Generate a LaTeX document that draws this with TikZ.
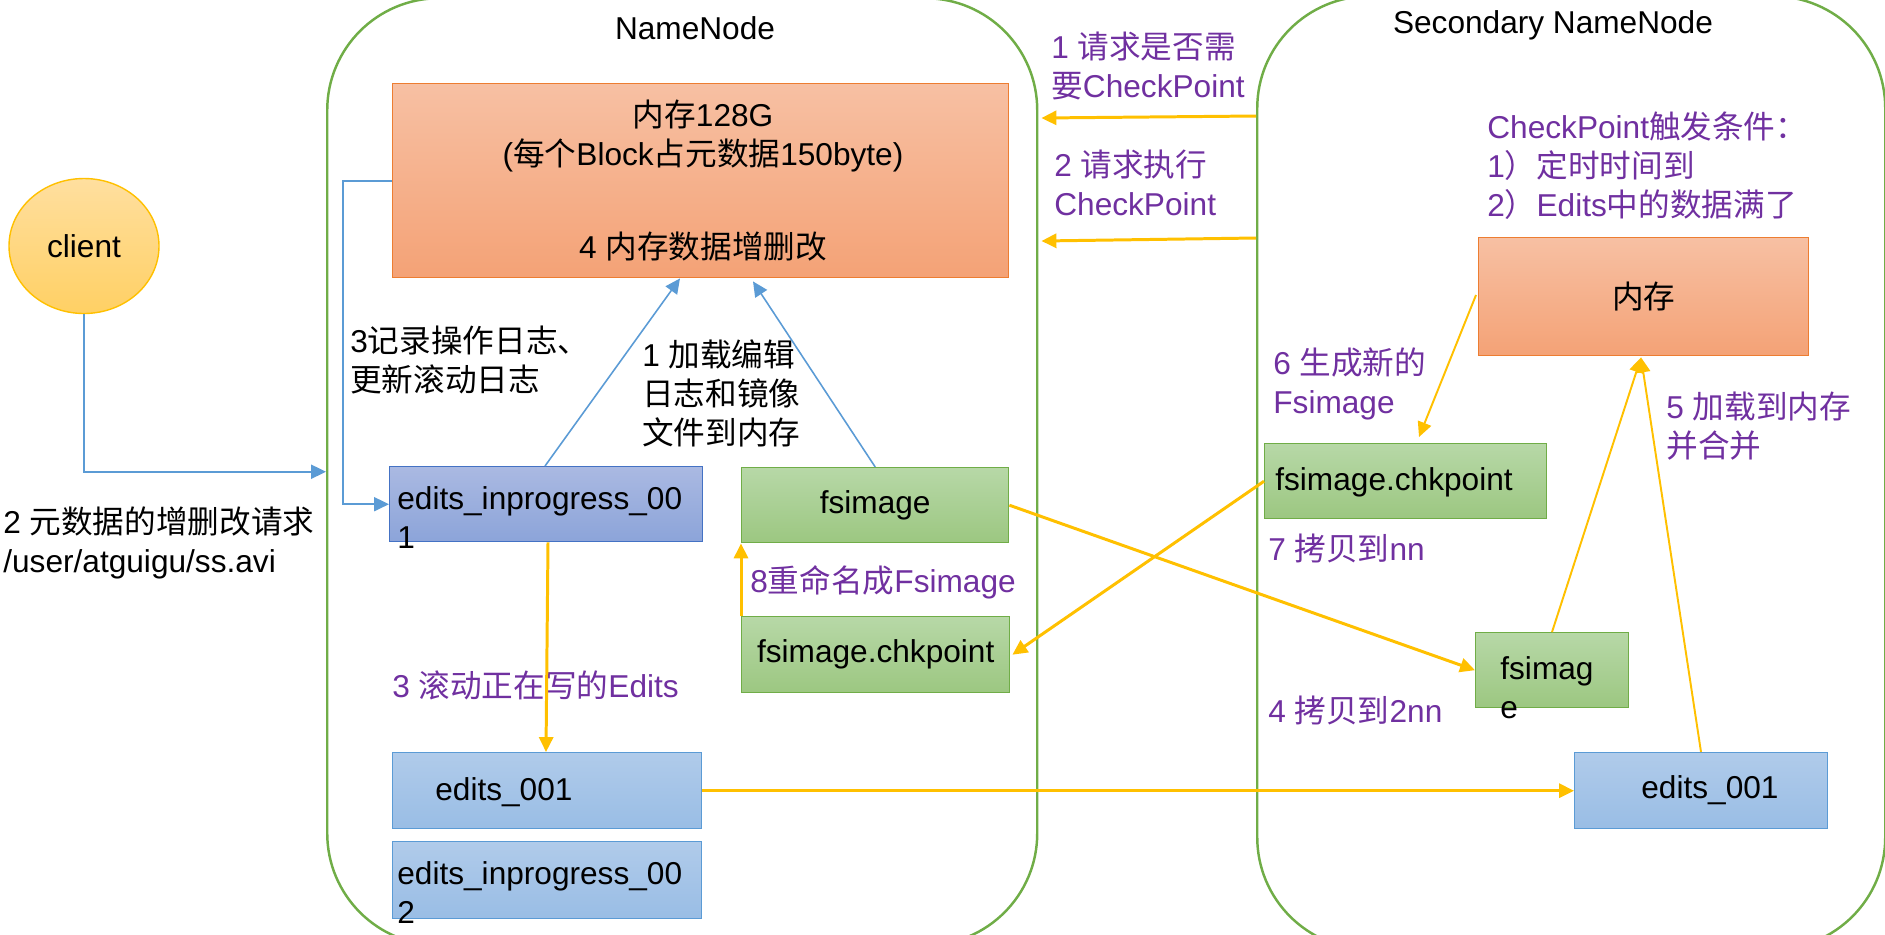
\documentclass[tikz,border=0pt]{standalone}
\usepackage{fontspec}
\setmainfont{Liberation Sans}
\newfontfamily\cjk{Noto Sans CJK SC}
\usetikzlibrary{arrows.meta,calc,shapes.geometric}
\definecolor{grn}{HTML}{70AD47}
\definecolor{grnt}{HTML}{B7D8A7}
\definecolor{grnb}{HTML}{9CC781}
\definecolor{ylw}{HTML}{FFC000}
\definecolor{pur}{HTML}{7030A0}
\definecolor{blu}{HTML}{5B9BD5}
\definecolor{blut}{HTML}{B0CBEA}
\definecolor{blub}{HTML}{99BDE5}
\definecolor{ind}{HTML}{4472C4}
\definecolor{indt}{HTML}{AAB9E2}
\definecolor{indb}{HTML}{8CA4D9}
\definecolor{orgd}{HTML}{ED7D31}
\definecolor{orgt}{HTML}{F7C0A3}
\definecolor{orgb}{HTML}{F4A276}
\definecolor{clit}{HTML}{FFDF9F}
\definecolor{clib}{HTML}{FFD064}

\def\u{0.02cm}
\def\fs{\fontsize{18}{22.2}\selectfont}
\def\zh#1{{\cjk #1}}
\tikzstyle{ctr}=[draw=grn,line width=1.4pt,rounded corners=2.24cm,anchor=north west,inner sep=0pt]
\tikzstyle{bx}=[anchor=north west,inner sep=0pt,line width=0.8pt]
\tikzstyle{mbox}=[bx,draw=orgd,top color=orgt,bottom color=orgb]
\tikzstyle{gbox}=[bx,draw=grn,top color=grnt,bottom color=grnb]
\tikzstyle{ebox}=[bx,draw=blu,top color=blut,bottom color=blub]
\tikzstyle{ibox}=[bx,draw=ind,top color=indt,bottom color=indb]
\tikzstyle{cli}=[ellipse,draw=ylw,line width=0.8pt,top color=clit,bottom color=clib]
\tikzstyle{lbl}=[inner sep=0pt,anchor=west,align=left]
\tikzstyle{plbl}=[lbl,text=pur]
\tikzstyle{arr}=[-{Triangle[length=8.5pt,width=8pt]}]
\tikzstyle{ya}=[arr,draw=ylw,line width=1.7pt]
\tikzstyle{yt}=[arr,draw=ylw,line width=1.1pt]
\tikzstyle{ba}=[arr,draw=blu,line width=0.9pt]

\begin{document}
\begin{tikzpicture}[x=\u,y=-\u,font=\fs]
	\useasboundingbox (0,0) rectangle (1885,934);
	\clip (0,0) rectangle (1885,934);
	\node[ctr,minimum width=710*\u,minimum height=947*\u](nn) at (326,-3){};
	\node[ctr,minimum width=628*\u,minimum height=953*\u](snn) at (1256,-5){};
	\node(nnt) at (695,28){NameNode};
	\node(snnt) at (1553,25){Secondary NameNode};
	\node[cli,minimum width=150*\u,minimum height=135*\u](cl) at (84,246){client};

	\node[mbox,minimum width=616*\u,minimum height=194*\u](mem) at (392,83){};
	\node[align=center](memt) at (703,181){\zh{内存}128G\\(\zh{每个}Block\zh{占元数据}150byte)\\[1.08cm]4 \zh{内存数据增删改}};
	\node[ibox,minimum width=313*\u,minimum height=75*\u](ein1) at (389,466){};
	\node[lbl](ein1t) at (397,518){edits\_inprogress\_00\\1};
	\node[gbox,minimum width=267*\u,minimum height=75*\u](fsi) at (741,467){fsimage};
	\node[gbox,minimum width=268*\u,minimum height=76*\u](fck) at (741,616){fsimage.chkpoint};
	\node[ebox,minimum width=309*\u,minimum height=76*\u](e1) at (392,752){};
	\node[lbl](e1t) at (435,792){edits\_001};
	\node[ebox,minimum width=309*\u,minimum height=77*\u](ein2) at (392,841){};
	\node[lbl](ein2t) at (397,893){edits\_inprogress\_00\\2};

	\node[mbox,minimum width=330*\u,minimum height=118*\u](mem2) at (1478,237){\zh{内存}};
	\node[gbox,minimum width=282*\u,minimum height=75*\u](fck2) at (1264,443){};
	\node[lbl](fck2t) at (1275,482){fsimage.chkpoint};
	\node[gbox,minimum width=153*\u,minimum height=75*\u](fsi2) at (1475,632){};
	\node[lbl](fsi2t) at (1500,688){fsimag\\e};
	\node[ebox,minimum width=253*\u,minimum height=76*\u](e1b) at (1574,752){};
	\node[lbl](e1bt) at (1641,790){edits\_001};

	\node[lbl](req2) at (3,543){2 \zh{元数据的增删改请求}\\/user/atguigu/ss.avi};
	\node[lbl](log3) at (350,360){3\zh{记录操作日志、}\\\zh{更新滚动日志}};
	\node[lbl](load1) at (642,393){1 \zh{加载编辑}\\\zh{日志和镜像}\\\zh{文件到内存}};
	\node[plbl](roll3) at (392,685){3 \zh{滚动正在写的}Edits};
	\node[plbl](ren8) at (750,582){8\zh{重命名成}Fsimage};
	\node[plbl](ask1) at (1051,66){1 \zh{请求是否需}\\\zh{要}CheckPoint};
	\node[plbl](run2) at (1054,183){2 \zh{请求执行}\\CheckPoint};
	\node[plbl](cond) at (1487,166){CheckPoint\zh{触发条件：}\\1\zh{）定时时间到}\\2\zh{）}Edits\zh{中的数据满了}};
	\node[plbl](gen6) at (1273,384){6 \zh{生成新的}\\Fsimage};
	\node[plbl](load5) at (1666,426){5 \zh{加载到内存}\\\zh{并合并}};
	\node[plbl](cp7) at (1268,548){7 \zh{拷贝到}nn};
	\node[plbl](cp4) at (1268,710){4 \zh{拷贝到}2nn};

	\draw[ba,line width=1.1pt](cl.south) |- (nn.west);
	\draw[ba](mem.west) -- ++(-49,0) |- (ein1.west);
	\draw[ba]($(ein1.north west)+(156,0)$) -- ($(mem.south west)+(288,0)$);
	\draw[ba](fsi.north) -- ($(mem.south west)+(361,3)$);
	\draw[ya](fck.north west) -- (fsi.south west);
	\draw[ya]($(ein1.south west)+(159,0)$) -- ($(e1.north west)+(154,0)$);
	\draw[ya](e1.east) -- (e1b.west);
	\draw[ya]($(snn.north west)+(0,121)$) -- ($(nn.north east)+(3,121)$);
	\draw[ya]($(snn.north west)+(0,243)$) -- ($(nn.north east)+(3,244)$);
	\draw[yt]($(mem2.north west)+(-2,58)$) -- ($(fck2.north west)+(155,-6)$);
	\draw[ya](fck2.west) -- ($(fck.east)+(2,0)$);
	\draw[ya](fsi.east) -- (fsi2.west);
	\draw[yt]($(fsi2.north west)+(77,0)$) -- ($(mem2.south west)+(163,1)$);
	\draw[yt]($(e1b.north west)+(127,0)$) -- ($(mem2.south west)+(163,1)$);
\end{tikzpicture}
\end{document}
